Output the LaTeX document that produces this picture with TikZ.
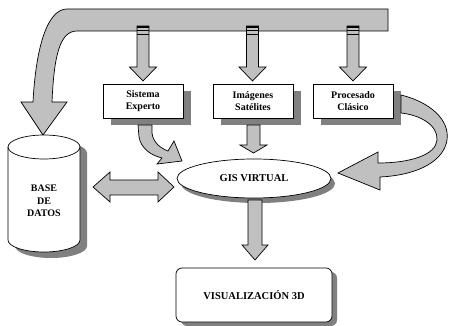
\documentclass[tikz,border=0pt]{standalone}
\usepackage{fontspec}
\setmainfont{Liberation Serif}
\usetikzlibrary{shapes.geometric,shadows}
\definecolor{arrowgray}{RGB}{192,192,192}
\definecolor{shadowgray}{RGB}{128,128,128}
\begin{document}
\begin{tikzpicture}[x=1pt,y=-1pt,line width=0.7pt,line join=miter,
  arrowfill/.style={fill=arrowgray,draw=black},
  label/.style={font=\bfseries\fontsize{10}{11.5}\selectfont,align=center,inner sep=0pt},
  sourcebox/.style={draw=black,fill=white,minimum width=80pt,minimum height=34pt,
    inner sep=0pt,label,
    drop shadow={shadow xshift=8pt,shadow yshift=-7pt,fill=shadowgray,opacity=1}}]
\useasboundingbox (0,0) rectangle (450,326);

% main feed bar, bending down into the database
\draw[arrowfill] (388,9) -- (67,9)
  .. controls (48,9) and (36,45) .. (33,102)
  -- (21,102) -- (43,135) -- (67,102) -- (52,102)
  .. controls (54,55) and (60,31) .. (77,31)
  -- (388,31) -- cycle;

% branches from the bar down to the three sources
\foreach \cx in {143,252.5,353}{
  \draw[arrowfill] ({\cx-6},26) -- ({\cx-6},67) -- ({\cx-13.5},67) -- (\cx,81)
    -- ({\cx+13.5},67) -- ({\cx+6},67) -- ({\cx+6},26) -- cycle;
  \draw[line width=2pt] ({\cx-6},27) -- ({\cx+6},27);
  \draw[line width=0.4pt] ({\cx-6},30.5) -- ({\cx+6},30.5);
  \draw[line width=0.4pt] ({\cx-6},34) -- ({\cx+6},34);
}

% data sources
\node[sourcebox] (se) at (143,101) {Sistema\\Experto};
\node[sourcebox] (is) at (253,101) {Imágenes\\Satélites};
\node[sourcebox] (pc) at (353,101) {Procesado\\Clásico};

% database cylinder
\begin{scope}[shift={(7,6)}]
  \fill[shadowgray] (8,147) -- (8,240) arc[start angle=180,end angle=0,x radius=36,y radius=12]
    -- (80,147) arc[start angle=0,end angle=-180,x radius=36,y radius=12] -- cycle;
\end{scope}
\draw[fill=white] (8,147) -- (8,240) arc[start angle=180,end angle=0,x radius=36,y radius=12]
  -- (80,147) arc[start angle=0,end angle=-180,x radius=36,y radius=12] -- cycle;
\draw (8,147) arc[start angle=180,end angle=0,x radius=36,y radius=12];
\node[label,font=\bfseries\fontsize{10}{12.5}\selectfont] (bd) at (44,201) {BASE\\DE\\DATOS};

% GIS core
\node[ellipse,draw=black,fill=white,minimum width=154pt,minimum height=39pt,inner sep=0pt,
  label,font=\bfseries\fontsize{10.5}{12}\selectfont,
  drop shadow={shadow xshift=4pt,shadow yshift=-5pt,fill=shadowgray,opacity=1}]
  (gis) at (254,178.5) {GIS VIRTUAL};

% output
\node[draw=black,fill=white,rounded corners=6pt,minimum width=156pt,minimum height=54pt,
  inner sep=0pt,label,font=\bfseries\fontsize{10.5}{12}\selectfont,
  drop shadow={shadow xshift=5pt,shadow yshift=-4pt,fill=shadowgray,opacity=1}]
  (vis) at (254,295) {VISUALIZACIÓN 3D};

% database <-> GIS
\draw[arrowfill] (93,187) -- (110,172) -- (110,180) -- (158,180) -- (158,172) -- (174,187)
  -- (158,202) -- (158,195) -- (110,195) -- (110,202) -- cycle;

% Imágenes Satélites -> GIS
\draw[arrowfill] (247,125) -- (247,145) -- (240,145) -- (253.5,153) -- (267,145)
  -- (260,145) -- (260,125) -- cycle;

% GIS -> visualisation
\draw[arrowfill] (248,200) -- (248,245) -- (242,245) -- (255,260) -- (268,245)
  -- (262,245) -- (262,200) -- cycle;

% Sistema Experto -> GIS (curved)
\draw[arrowfill] (138,125) -- (139,137)
  .. controls (141,148) and (150,155) .. (162,158)
  -- (157,164) -- (182,161) -- (174,141) -- (168,151)
  .. controls (160,148) and (153,142) .. (152,133) -- (152,125) -- cycle;

% Procesado Clásico -> GIS (curved ribbon)
\draw[arrowfill] (401,95) .. controls (430,102) and (450,120) .. (447,140)
  .. controls (444,160) and (420,175) .. (380,177)
  -- (380,190) -- (338,173) -- (378,152) -- (378,163)
  .. controls (410,163) and (436,155) .. (437,140)
  .. controls (438,125) and (420,115) .. (401,113) -- cycle;
\end{tikzpicture}
\end{document}
